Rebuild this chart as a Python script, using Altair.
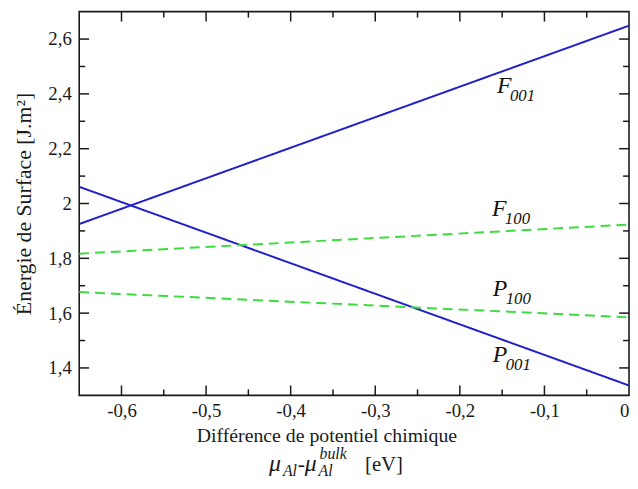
import altair as alt
import pandas as pd

# ---- data -------------------------------------------------------------
mu_vals = [-0.65, 0.0]                 # chemical potential difference (eV)
series = ["F001", "P001", "F100", "P100"]
F001 = [1.925, 2.649]
P001 = [2.061, 1.336]
F100 = [1.817, 1.923]
P100 = [1.677, 1.585]

label_letter = ["F", "F", "P", "P"]
label_sub = ["001", "100", "100", "001"]
label_x = [-0.156, -0.162, -0.161, -0.161]
label_y = [2.403, 1.953, 1.662, 1.4215]

x_major = [-0.6, -0.5, -0.4, -0.3, -0.2, -0.1]
x_minor = [-0.55, -0.45, -0.35, -0.25, -0.15, -0.05]
x_labels = [-0.6, -0.5, -0.4, -0.3, -0.2, -0.1, 0.0]
y_major = [1.4, 1.6, 1.8, 2.0, 2.2, 2.4, 2.6]
y_minor = [1.5, 1.7, 1.9, 2.1, 2.3, 2.5]

x_domain = [-0.65, 0.0]
y_domain = [1.3, 2.7]

# ---- layout / style ---------------------------------------------------
W, H = 556, 388
FONT = "Liberation Serif"
BLUE = "#2121c9"
GREEN = "#3ddc3d"
INK = "#1a1a1a"

rows = []
for name, vals in zip(series, [F001, P001, F100, P100]):
    for xv, yv in zip(mu_vals, vals):
        rows.append({"series": name, "mu": xv, "E": yv})
lines_df = pd.DataFrame(rows)

labels_df = pd.DataFrame({"letter": label_letter, "sub": label_sub,
                          "x": label_x, "y": label_y})

xs = alt.Scale(domain=x_domain, nice=False, zero=False)
ys = alt.Scale(domain=y_domain, nice=False, zero=False)

comma = "replace(replace(format(datum.value, '.2~f'), '.', ','), '\u2212', '-')"

x_axis = alt.Axis(
    values=x_labels, labelExpr=comma, tickSize=0, domain=False, grid=False,
    labelPadding=6, labelFont=FONT, labelFontSize=19, labelColor=INK,
    title="Différence de potentiel chimique", titleFont=FONT,
    titleFontSize=20, titleFontWeight="normal", titleColor=INK,
    titlePadding=6, titleX=250, titleAlign="center")
y_axis = alt.Axis(
    values=y_major, labelExpr=comma, tickSize=0, domain=False, grid=False,
    labelPadding=8, labelFont=FONT, labelFontSize=19, labelColor=INK,
    title="Énergie de Surface [J.m²]", titleFont=FONT, titleFontSize=22,
    titleFontWeight="normal", titleColor=INK, titlePadding=12)

lines = alt.Chart(lines_df).mark_line(strokeWidth=2, clip=True).encode(
    x=alt.X("mu:Q", scale=xs, axis=x_axis),
    y=alt.Y("E:Q", scale=ys, axis=y_axis),
    color=alt.Color("series:N", scale=alt.Scale(domain=series,
                    range=[BLUE, BLUE, GREEN, GREEN]), legend=None),
    strokeDash=alt.StrokeDash("series:N", scale=alt.Scale(domain=series,
                    range=[[1, 0], [1, 0], [10, 6], [10, 6]]), legend=None),
    detail="series:N",
)


def yticks(vals, side, length):
    df = pd.DataFrame({"v": vals})
    if side == "left":
        xa, xb = 0, length
    else:
        xa, xb = W - length, W
    return alt.Chart(df).mark_rule(color=INK, strokeWidth=1.5).encode(
        y=alt.Y("v:Q", scale=ys, axis=y_axis),
        x=alt.value(xa), x2=alt.value(xb))


def xticks(vals, side, length):
    df = pd.DataFrame({"v": vals})
    if side == "bottom":
        ya, yb = H - length, H
    else:
        ya, yb = 0, length
    return alt.Chart(df).mark_rule(color=INK, strokeWidth=1.5).encode(
        x=alt.X("v:Q", scale=xs, axis=x_axis),
        y=alt.value(ya), y2=alt.value(yb))


ticks = [
    yticks(y_major, "left", 10), yticks(y_minor, "left", 6),
    yticks(y_major, "right", 10), yticks(y_minor, "right", 6),
    xticks(x_major, "bottom", 10), xticks(x_minor, "bottom", 6),
    xticks(x_major, "top", 10), xticks(x_minor, "top", 6),
]

lab_main = alt.Chart(labels_df).mark_text(
    font=FONT, fontStyle="italic", fontSize=24, align="left",
    baseline="alphabetic", color="#111111").encode(
    x=alt.X("x:Q", scale=xs, axis=x_axis), y=alt.Y("y:Q", scale=ys, axis=y_axis),
    text="letter:N")
lab_sub = alt.Chart(labels_df).mark_text(
    font=FONT, fontStyle="italic", fontSize=17, align="left",
    baseline="alphabetic", color="#111111", dx=13, dy=8).encode(
    x=alt.X("x:Q", scale=xs, axis=x_axis), y=alt.Y("y:Q", scale=ys, axis=y_axis),
    text="sub:N")

# second line of the x-axis title: mu_Al - mu_Al^bulk [eV]
pieces = [
    ("μ", 24, "italic", 192, 465),
    ("Al", 16, "italic", 206, 470),
    ("-", 22, "normal", 221, 465),
    ("μ", 24, "italic", 228, 465),
    ("Al", 16, "italic", 242, 470),
    ("bulk", 16, "italic", 243, 452),
    ("[eV]", 21, "normal", 289, 465),
]
title2 = []
for txt, size, style, px, py in pieces:
    title2.append(
        alt.Chart(pd.DataFrame({"t": [txt]})).mark_text(
            font=FONT, fontSize=size, fontStyle=style, align="left",
            baseline="alphabetic", color=INK).encode(
            text="t:N", x=alt.value(px), y=alt.value(py)))

chart = alt.layer(lines, *ticks, lab_main, lab_sub, *title2).properties(
    width=W, height=H,
    autosize=alt.AutoSizeParams(type="none"),
    padding={"left": 72, "top": 1, "right": 1, "bottom": 92},
).configure(background="white").configure_view(stroke=INK, strokeWidth=1.6)

chart.save("out.html", embed_options={"renderer": "svg", "actions": False})
